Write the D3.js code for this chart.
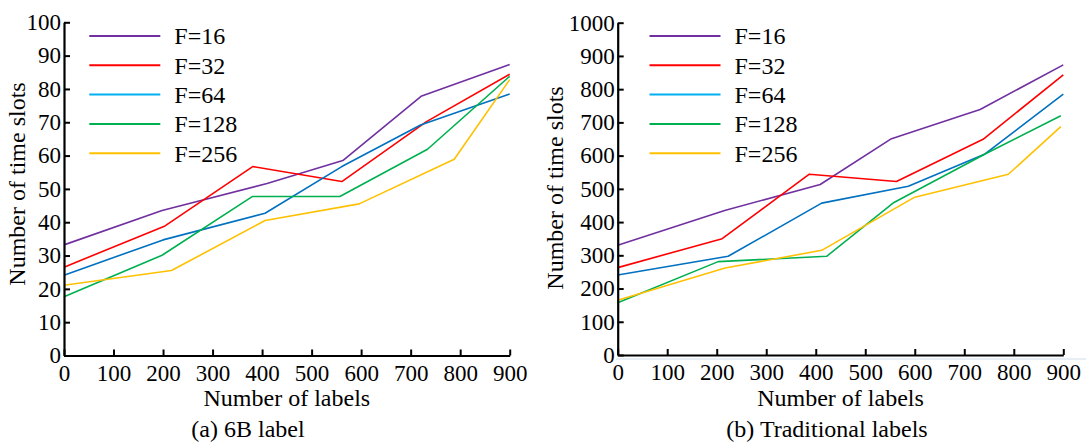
<!DOCTYPE html>
<html>
<head>
<meta charset="utf-8">
<script src="https://cdn.jsdelivr.net/npm/d3@7"></script>
<style>
  body { margin: 0; background: #fff; }
  svg { display: block; }
  svg text { font-family: 'Liberation Serif', 'DejaVu Serif', serif; fill: #000; }
</style>
</head>
<body>
<svg id="chart" width="1089" height="446"></svg>
<script>
// series names and colours
const seriesNames = ['F=16', 'F=32', 'F=64', 'F=128', 'F=256'];
const lineColors  = ['#7030a0', '#ff0000', '#0070c0', '#00b050', '#ffc000'];
const legendColors = ['#7030a0', '#ff0000', '#00b0f0', '#00b050', '#ffc000'];

const xTicks = [0, 100, 200, 300, 400, 500, 600, 700, 800, 900];

// (a) 6B label
const a_x16  = [0, 198, 410, 563, 721, 900];
const a_y16  = [33.2, 43.5, 51.6, 58.5, 77.8, 87.3];
const a_x32  = [0, 204, 381, 561, 732, 900];
const a_y32  = [26.5, 38.9, 56.7, 52.2, 70.2, 84.4];
const a_x64  = [0, 200, 406, 561, 720, 900];
const a_y64  = [24.1, 34.7, 42.7, 56.7, 69.2, 78.5];
const a_x128 = [0, 198, 380, 557, 734, 900];
const a_y128 = [17.6, 30.1, 47.7, 47.7, 61.9, 83.8];
const a_x256 = [0, 217, 406, 596, 788, 900];
const a_y256 = [21.1, 25.5, 40.5, 45.5, 58.9, 82.8];

// (b) Traditional labels
const b_x16  = [0, 216, 409, 553, 732, 900];
const b_y16  = [330, 435, 513, 651, 739, 873];
const b_x32  = [0, 211, 387, 563, 738, 900];
const b_y32  = [263, 350, 544, 522, 649, 843];
const b_x64  = [0, 223, 412, 587, 742, 900];
const b_y64  = [241, 297, 457, 508, 605, 785];
const b_x128 = [0, 203, 422, 558, 742, 895];
const b_y128 = [157, 281, 297, 459, 605, 720];
const b_x256 = [0, 217, 412, 600, 789, 895];
const b_y256 = [165, 262, 315, 475, 544, 687];

const FONT = "'Liberation Serif', 'DejaVu Serif', serif";
const svg = d3.select('#chart');

function drawPanel(opt) {
  const x = d3.scaleLinear().domain([0, 900]).range([opt.left, opt.right]);
  const y = d3.scaleLinear().domain([0, opt.ymax]).range([opt.bottom, opt.top]);
  const g = svg.append('g');

  // lines first, axes on top
  const line = d3.line().x(d => x(d[0])).y(d => y(d[1]));
  opt.series.forEach((s, i) => {
    g.append('path')
      .datum(d3.zip(s[0], s[1]))
      .attr('d', line)
      .attr('fill', 'none')
      .attr('stroke', lineColors[i])
      .attr('stroke-width', 1.6)
      .attr('stroke-linejoin', 'round');
  });

  const xAxis = g.append('g')
    .attr('transform', `translate(0,${opt.bottom})`)
    .call(d3.axisBottom(x).tickValues(xTicks).tickFormat(d3.format('d'))
      .tickSizeInner(-6).tickSizeOuter(0).tickPadding(9));
  const yAxis = g.append('g')
    .attr('transform', `translate(${opt.left},0)`)
    .call(d3.axisLeft(y).tickValues(opt.yTicks).tickFormat(d3.format('d'))
      .tickSizeInner(-6).tickSizeOuter(0).tickPadding(3));

  [xAxis, yAxis].forEach(ax => {
    ax.attr('font-family', FONT).attr('font-size', 23);
    ax.select('.domain').attr('stroke', '#000').attr('stroke-width', 2.2);
    ax.selectAll('.tick line').attr('stroke', '#000').attr('stroke-width', 2);
    ax.selectAll('.tick text').attr('fill', '#000');
  });

  // legend
  seriesNames.forEach((name, i) => {
    const ly = opt.legendY + i * 29.3;
    g.append('line')
      .attr('x1', opt.legendX).attr('x2', opt.legendX + 71)
      .attr('y1', ly).attr('y2', ly)
      .attr('stroke', legendColors[i]).attr('stroke-width', 2);
    g.append('text')
      .attr('x', opt.legendX + 85).attr('y', ly).attr('dy', '0.35em')
      .attr('font-family', FONT).attr('font-size', 24)
      .text(name);
  });

  // titles
  g.append('text')
    .attr('x', (opt.left + opt.right) / 2).attr('y', 406)
    .attr('text-anchor', 'middle')
    .attr('font-family', FONT).attr('font-size', 24)
    .text('Number of labels');
  g.append('text')
    .attr('x', opt.capX).attr('y', 437)
    .attr('text-anchor', 'middle')
    .attr('font-family', FONT).attr('font-size', 24)
    .text(opt.caption);
  g.append('text')
    .attr('transform', `translate(${opt.ylabX},${opt.ylabY}) rotate(-90)`)
    .attr('text-anchor', 'middle').attr('dy', '0.35em')
    .attr('font-family', FONT).attr('font-size', 24)
    .text('Number of time slots');
}

drawPanel({
  left: 64, right: 509.7, top: 22.3, bottom: 355.5, ymax: 100,
  yTicks: d3.range(0, 101, 10),
  series: [[a_x16, a_y16], [a_x32, a_y32], [a_x64, a_y64], [a_x128, a_y128], [a_x256, a_y256]],
  legendX: 89.3, legendY: 36,
  capX: 248, caption: '(a) 6B label',
  ylabX: 17, ylabY: 184
});

// faint rule under the right panel
svg.append('line')
  .attr('x1', 616).attr('x2', 1086).attr('y1', 359).attr('y2', 359)
  .attr('stroke', '#dfe8f2').attr('stroke-width', 1.5);

drawPanel({
  left: 617.7, right: 1063.3, top: 22.7, bottom: 355, ymax: 1000,
  yTicks: d3.range(0, 1001, 100),
  series: [[b_x16, b_y16], [b_x32, b_y32], [b_x64, b_y64], [b_x128, b_y128], [b_x256, b_y256]],
  legendX: 649.5, legendY: 36,
  capX: 827, caption: '(b) Traditional labels',
  ylabX: 555, ylabY: 188
});
</script>
</body>
</html>
